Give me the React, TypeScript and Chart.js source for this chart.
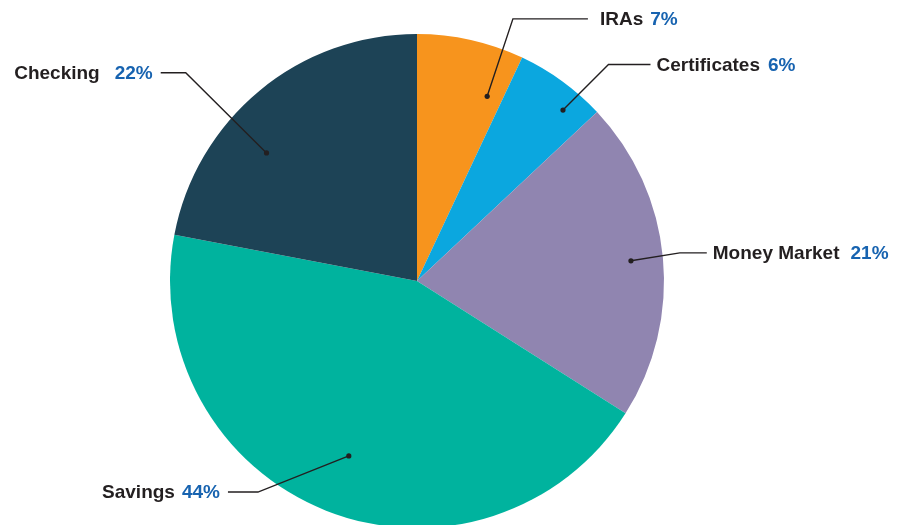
import React, { useEffect, useRef } from "react";
import { Chart, registerables } from "chart.js";

Chart.register(...registerables);

const categories = ["IRAs", "Certificates", "Money Market", "Savings", "Checking"];
const percents = [7, 6, 21, 44, 22];
const colors = ["#F7941D", "#0BA7DF", "#9085B0", "#00B39E", "#1D4356"];

// leader line styles: [dotAngleOffsetDeg, dotRadiusFrac, elbowAngleOffsetDeg, elbowRadiusFrac, horizontalLen, textGap, nameGap]
const leaderStyles = [
  [8.2, 0.8, 7.5, 1.13, 75, 12, 7],
  [4.5, 0.91, 5.5, 1.17, 42, 6, 8],
  [0, 0.87, -0.7, 1.07, 27, 6, 11],
  [-0.3, 0.76, 15.4, 1.07, 30, 8, 7],
  [-10, 0.8, -8.4, 1.26, 25, 8, 15],
];

const FONT = "bold 19px 'Liberation Sans', Arial, Helvetica, sans-serif";

const leaderPlugin = {
  id: "leaders",
  afterDraw(chart: any) {
    const ctx = chart.ctx;
    const meta = chart.getDatasetMeta(0);
    ctx.save();
    ctx.font = FONT;
    meta.data.forEach((arc: any, i: number) => {
      const { x, y, startAngle, endAngle, outerRadius } = arc.getProps(
        ["x", "y", "startAngle", "endAngle", "outerRadius"],
        true
      );
      const mid = (startAngle + endAngle) / 2;
      const [dA, dR, eA, eR, hLen, tGap, nGap] = leaderStyles[i];
      const da = mid + (dA * Math.PI) / 180;
      const ea = mid + (eA * Math.PI) / 180;
      const dx = x + Math.cos(da) * outerRadius * dR;
      const dy = y + Math.sin(da) * outerRadius * dR;
      const ex = x + Math.cos(ea) * outerRadius * eR;
      const ey = y + Math.sin(ea) * outerRadius * eR;
      const right = Math.cos(ea) > 0;
      const hx = right ? ex + hLen : ex - hLen;

      ctx.strokeStyle = "#231F20";
      ctx.lineWidth = 1.4;
      ctx.beginPath();
      ctx.moveTo(dx, dy);
      ctx.lineTo(ex, ey);
      ctx.lineTo(hx, ey);
      ctx.stroke();

      ctx.fillStyle = "#231F20";
      ctx.beginPath();
      ctx.arc(dx, dy, 2.6, 0, Math.PI * 2);
      ctx.fill();

      const name = categories[i];
      const pct = percents[i] + "%";
      const nw = ctx.measureText(name).width;
      const pw = ctx.measureText(pct).width;
      const total = nw + nGap + pw;
      const startX = right ? hx + tGap : hx - tGap - total;
      ctx.textBaseline = "middle";
      ctx.textAlign = "left";
      ctx.fillStyle = "#231F20";
      ctx.fillText(name, startX, ey + 1);
      ctx.fillStyle = "#1763B0";
      ctx.fillText(pct, startX + nw + nGap, ey + 1);
    });
    ctx.restore();
  },
};

export default function App() {
  const ref = useRef<HTMLCanvasElement>(null);
  useEffect(() => {
    const chart = new Chart(ref.current!, {
      type: "pie",
      data: {
        labels: categories,
        datasets: [
          {
            data: percents,
            backgroundColor: colors,
            borderWidth: 0,
          },
        ],
      },
      options: {
        animation: false,
        responsive: false,
        maintainAspectRatio: false,
        layout: { padding: { left: 170, right: 251, top: 34, bottom: 32 } },
        plugins: {
          legend: { display: false },
          tooltip: { enabled: false },
        },
      },
      plugins: [leaderPlugin],
    });
    return () => chart.destroy();
  }, []);
  return (
    <div
      style={{
        position: "fixed",
        left: 0,
        top: 0,
        width: 915,
        height: 525,
        overflow: "hidden",
        background: "#fff",
      }}
    >
      <canvas ref={ref} width={915} height={560} style={{ display: "block" }} />
    </div>
  );
}
